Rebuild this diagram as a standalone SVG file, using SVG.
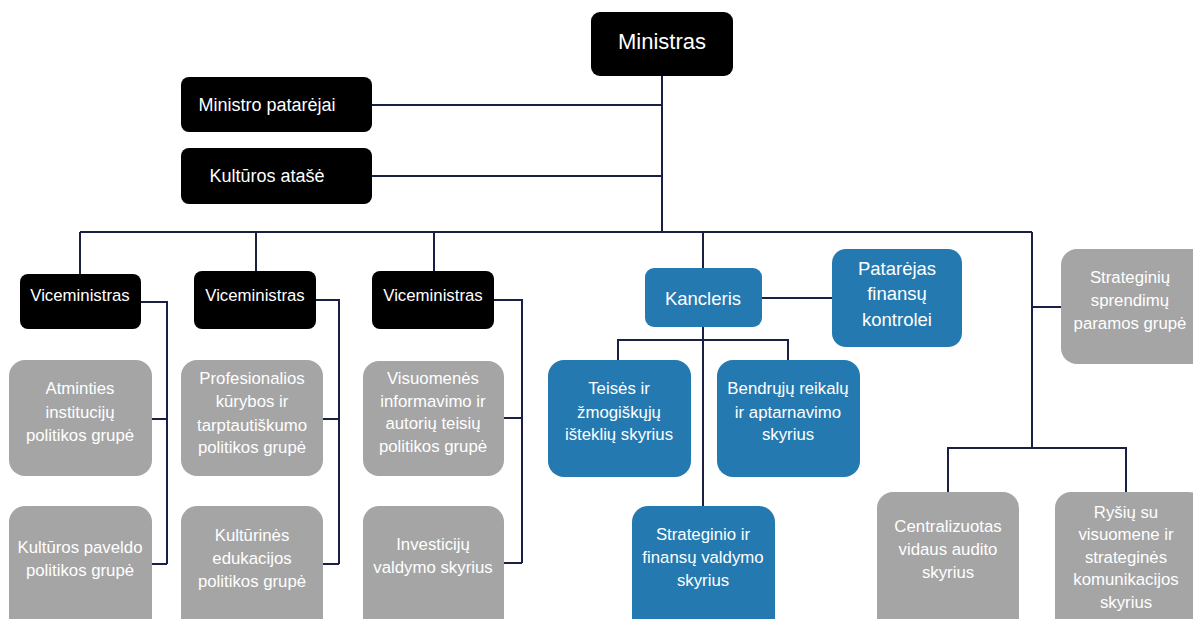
<svg xmlns="http://www.w3.org/2000/svg" width="1193" height="619" viewBox="0 0 1193 619">
<style>
.k{fill:#000}
.g{fill:#a5a5a5}
.b{fill:#2479b0}
text{font-family:"Liberation Sans",Arial,sans-serif;fill:#fff;text-anchor:middle}
.t16{font-size:16.8px}
.t18{font-size:18.5px}
#connectors{stroke:#1a2044;stroke-width:2;fill:none}
</style>
<rect width="1193" height="619" fill="#fff"/>
<g id="connectors">
<path d="M662 76V232M372 105H662M372 176H662M80 232H1032M80 232V274M256 232V271M434 232V271M703 232V268M1032 232V448"/>
<path d="M141 302H167V564M152 419H167M152 564H167"/>
<path d="M316 300H339V564M323 419H339M323 564H339"/>
<path d="M494 300H522V563M504 418H522M504 563H522"/>
<path d="M762 298H832M703 327V506M618 360V340H788V360"/>
<path d="M1032 307H1061M948 492V448H1126V492"/>
</g>
<g id="ministras"><rect class="k" x="591" y="12" width="142" height="64" rx="9"/><text class="t18" x="662" y="49" style="font-size:22px">Ministras</text></g>
<g id="patarejai"><rect class="k" x="181" y="77" width="191" height="55" rx="8"/><text class="t18" x="267" y="111" style="font-size:18px">Ministro patarėjai</text></g>
<g id="atase"><rect class="k" x="181" y="148" width="191" height="56" rx="8"/><text class="t18" x="267" y="182" style="font-size:18px">Kultūros atašė</text></g>
<g id="vice1"><rect class="k" x="20" y="274" width="121" height="55" rx="8"/><text class="t16" x="80" y="301">Viceministras</text></g>
<g id="vice2"><rect class="k" x="194" y="271" width="122" height="58" rx="8"/><text class="t16" x="255" y="301">Viceministras</text></g>
<g id="vice3"><rect class="k" x="372" y="271" width="122" height="58" rx="8"/><text class="t16" x="433" y="301">Viceministras</text></g>
<g id="atminties"><rect class="g" x="9" y="360" width="143" height="116" rx="16"/><text class="t16" x="80" y="394">Atminties</text><text class="t16" x="80" y="418">institucijų</text><text class="t16" x="80" y="441">politikos grupė</text></g>
<g id="paveldo"><rect class="g" x="9" y="506" width="143" height="130" rx="16"/><text class="t16" x="80" y="553">Kultūros paveldo</text><text class="t16" x="80" y="576">politikos grupė</text></g>
<g id="profesionalios"><rect class="g" x="181" y="360" width="142" height="116" rx="16"/><text class="t16" x="252" y="384">Profesionalios</text><text class="t16" x="252" y="407">kūrybos ir</text><text class="t16" x="252" y="431">tarptautiškumo</text><text class="t16" x="252" y="453">politikos grupė</text></g>
<g id="edukacijos"><rect class="g" x="181" y="506" width="142" height="130" rx="16"/><text class="t16" x="252" y="541">Kultūrinės</text><text class="t16" x="252" y="564">edukacijos</text><text class="t16" x="252" y="587">politikos grupė</text></g>
<g id="visuomenes"><rect class="g" x="363" y="361" width="141" height="115" rx="16"/><text class="t16" x="433" y="384">Visuomenės</text><text class="t16" x="433" y="407">informavimo ir</text><text class="t16" x="433" y="429">autorių teisių</text><text class="t16" x="433" y="452">politikos grupė</text></g>
<g id="investiciju"><rect class="g" x="363" y="506" width="141" height="130" rx="16"/><text class="t16" x="433" y="550">Investicijų</text><text class="t16" x="433" y="573">valdymo skyrius</text></g>
<g id="kancleris"><rect class="b" x="645" y="268" width="117" height="59" rx="9"/><text class="t18" x="703" y="305">Kancleris</text></g>
<g id="patarejas"><rect class="b" x="832" y="249" width="130" height="98" rx="14"/><text class="t18" x="897" y="275">Patarėjas</text><text class="t18" x="897" y="300">finansų</text><text class="t18" x="897" y="326">kontrolei</text></g>
<g id="teises"><rect class="b" x="548" y="360" width="143" height="117" rx="16"/><text class="t16" x="619" y="394">Teisės ir</text><text class="t16" x="619" y="418">žmogiškųjų</text><text class="t16" x="619" y="440">išteklių skyrius</text></g>
<g id="bendruju"><rect class="b" x="717" y="360" width="143" height="117" rx="16"/><text class="t16" x="788" y="394">Bendrųjų reikalų</text><text class="t16" x="788" y="418">ir aptarnavimo</text><text class="t16" x="788" y="440">skyrius</text></g>
<g id="strateginio"><rect class="b" x="632" y="506" width="143" height="130" rx="16"/><text class="t16" x="703" y="540">Strateginio ir</text><text class="t16" x="703" y="563">finansų valdymo</text><text class="t16" x="703" y="586">skyrius</text></g>
<g id="strateginiu"><rect class="g" x="1061" y="249" width="150" height="115" rx="16"/><text class="t16" x="1130" y="283">Strateginių</text><text class="t16" x="1130" y="306">sprendimų</text><text class="t16" x="1130" y="329">paramos grupė</text></g>
<g id="centralizuotas"><rect class="g" x="877" y="492" width="142" height="144" rx="16"/><text class="t16" x="948" y="532">Centralizuotas</text><text class="t16" x="948" y="555">vidaus audito</text><text class="t16" x="948" y="578">skyrius</text></g>
<g id="rysiu"><rect class="g" x="1055" y="492" width="150" height="144" rx="16"/><text class="t16" x="1126" y="518">Ryšių su</text><text class="t16" x="1126" y="540">visuomene ir</text><text class="t16" x="1126" y="563">strateginės</text><text class="t16" x="1126" y="585">komunikacijos</text><text class="t16" x="1126" y="608">skyrius</text></g>
</svg>
